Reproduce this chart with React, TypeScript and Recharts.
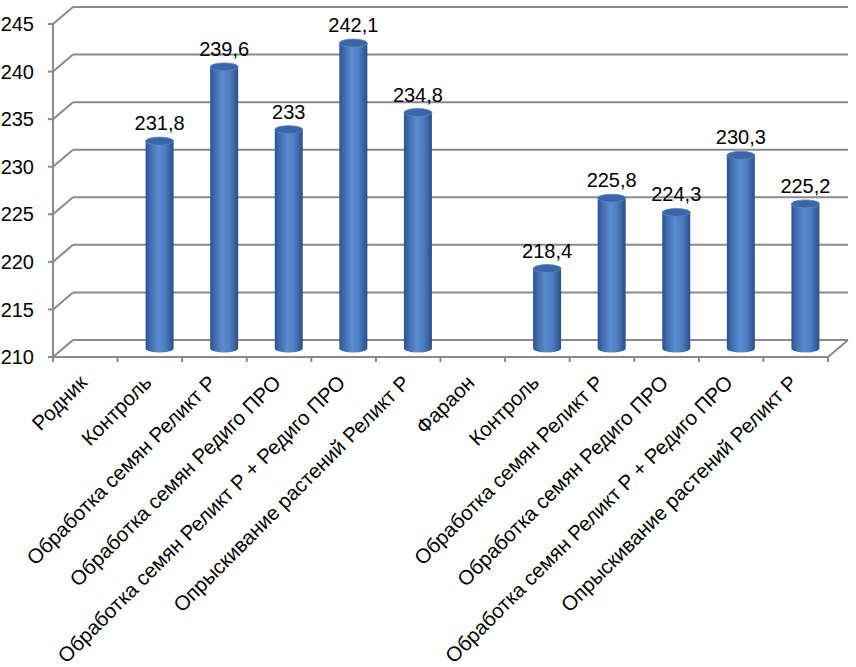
import React from 'react';
import { BarChart, Bar, XAxis, YAxis, CartesianGrid, LabelList } from 'recharts';

const categories: string[] = [
  'Родник',
  'Контроль',
  'Обработка семян Реликт Р',
  'Обработка семян Редиго ПРО',
  'Обработка семян Реликт Р + Редиго ПРО',
  'Опрыскивание растений Реликт Р',
  'Фараон',
  'Контроль',
  'Обработка семян Реликт Р',
  'Обработка семян Редиго ПРО',
  'Обработка семян Реликт Р + Редиго ПРО',
  'Опрыскивание растений Реликт Р',
];
const values: (number | null)[] = [null, 231.8, 239.6, 233, 242.1, 234.8, null, 218.4, 225.8, 224.3, 230.3, 225.2];
const yTicks: number[] = [210, 215, 220, 225, 230, 235, 240, 245];

const data = categories.map((name, i) => ({ id: i, name, value: values[i] }));

const W = 856;
const H = 667;
const MARGIN = { top: 24, right: 28, left: 0, bottom: 0 };
const Y_AXIS_W = 53;
const X_AXIS_H = 310;
const PLOT_BOTTOM = H - MARGIN.bottom - X_AXIS_H;
const PLOT_W = W - MARGIN.left - MARGIN.right - Y_AXIS_W;
const BAND = PLOT_W / categories.length;

const BACK_DX = 20;
const BACK_DY = -17;
const MID_DX = BACK_DX / 2;
const MID_DY = BACK_DY / 2;
const RY = 4;

const GRID = '#8a8a8a';
const FONT = '"Liberation Sans", Arial, sans-serif';

const fmt = (v: number) => String(v).replace('.', ',');

const GridLine = (p: any) => {
  const { x1, y1, x2 } = p;
  const by = y1 + BACK_DY;
  const bx1 = x1 + BACK_DX;
  const bx2 = x2 + BACK_DX;
  const isBottom = Math.abs(y1 - PLOT_BOTTOM) < 1;
  return (
    <g>
      <line x1={x1} y1={y1} x2={bx1} y2={by} stroke={GRID} strokeWidth={2} />
      <line x1={bx1} y1={by} x2={bx2} y2={by} stroke={GRID} strokeWidth={2} />
      {isBottom && <line x1={x2} y1={y1} x2={bx2} y2={by} stroke={GRID} strokeWidth={2} />}
    </g>
  );
};

const Cylinder = (p: any) => {
  const { x, y, width, height, payload } = p;
  if (!payload || payload.value == null || !height) return null;
  const l = x + MID_DX;
  const r = x + width + MID_DX;
  const t = y + MID_DY;
  const b = y + height + MID_DY;
  const rx = width / 2;
  return (
    <g>
      <path
        d={`M${l},${t} L${l},${b} A${rx},${RY} 0 0 0 ${r},${b} L${r},${t} Z`}
        fill="url(#cylGrad)"
      />
      <ellipse cx={l + rx} cy={t} rx={rx} ry={RY} fill="#3b66a5" stroke="#5b88c8" strokeWidth={0.8} />
    </g>
  );
};

const ValueLabel = (p: any) => {
  const { x, y, width, value } = p;
  if (value == null) return null;
  return (
    <text
      x={x + width / 2 + MID_DX}
      y={y + MID_DY - RY - 7}
      textAnchor="middle"
      fontFamily={FONT}
      fontSize={20}
      fill="#000"
    >
      {fmt(value)}
    </text>
  );
};

const XTick = (p: any) => {
  const { x, payload } = p;
  const half = payload && payload.offset ? payload.offset : BAND / 2;
  const idx = payload.value as number;
  return (
    <g>
      <line x1={x - half} y1={PLOT_BOTTOM} x2={x - half} y2={PLOT_BOTTOM + 5} stroke={GRID} strokeWidth={2} />
      {idx === categories.length - 1 && (
        <line x1={x + half} y1={PLOT_BOTTOM} x2={x + half} y2={PLOT_BOTTOM + 5} stroke={GRID} strokeWidth={2} />
      )}
      <text
        transform={`translate(${x + 3},${PLOT_BOTTOM + 27}) rotate(-45)`}
        textAnchor="end"
        fontFamily={FONT}
        fontSize={20.5}
        fill="#000"
      >
        {categories[idx]}
      </text>
    </g>
  );
};

export default function App() {
  return (
    <div style={{ position: 'absolute', left: 0, top: 0, width: W, height: H, background: '#fff' }}>
      <BarChart width={W} height={H} data={data} margin={MARGIN} barSize={28}>
        <defs>
          <linearGradient id="cylGrad" x1="0" y1="0" x2="1" y2="0">
            <stop offset="0%" stopColor="#2d5290" />
            <stop offset="15%" stopColor="#3d6aab" />
            <stop offset="45%" stopColor="#5b8bd0" />
            <stop offset="70%" stopColor="#4c7ec2" />
            <stop offset="100%" stopColor="#2b4e86" />
          </linearGradient>
        </defs>
        <CartesianGrid vertical={false} horizontal={GridLine} stroke={GRID} />
        <XAxis
          dataKey="id"
          type="category"
          height={X_AXIS_H}
          interval={0}
          tickLine={false}
          axisLine={{ stroke: GRID, strokeWidth: 2 }}
          tick={XTick}
        />
        <YAxis
          type="number"
          domain={[210, 245]}
          ticks={yTicks}
          allowDataOverflow
          width={Y_AXIS_W}
          tickSize={5}
          tickMargin={14}
          axisLine={{ stroke: GRID, strokeWidth: 2 }}
          tickLine={{ stroke: GRID, strokeWidth: 2 }}
          tick={{ fontFamily: FONT, fontSize: 20, fill: '#000' }}
        />
        <Bar dataKey="value" isAnimationActive={false} shape={Cylinder}>
          <LabelList dataKey="value" content={ValueLabel} />
        </Bar>
      </BarChart>
    </div>
  );
}
